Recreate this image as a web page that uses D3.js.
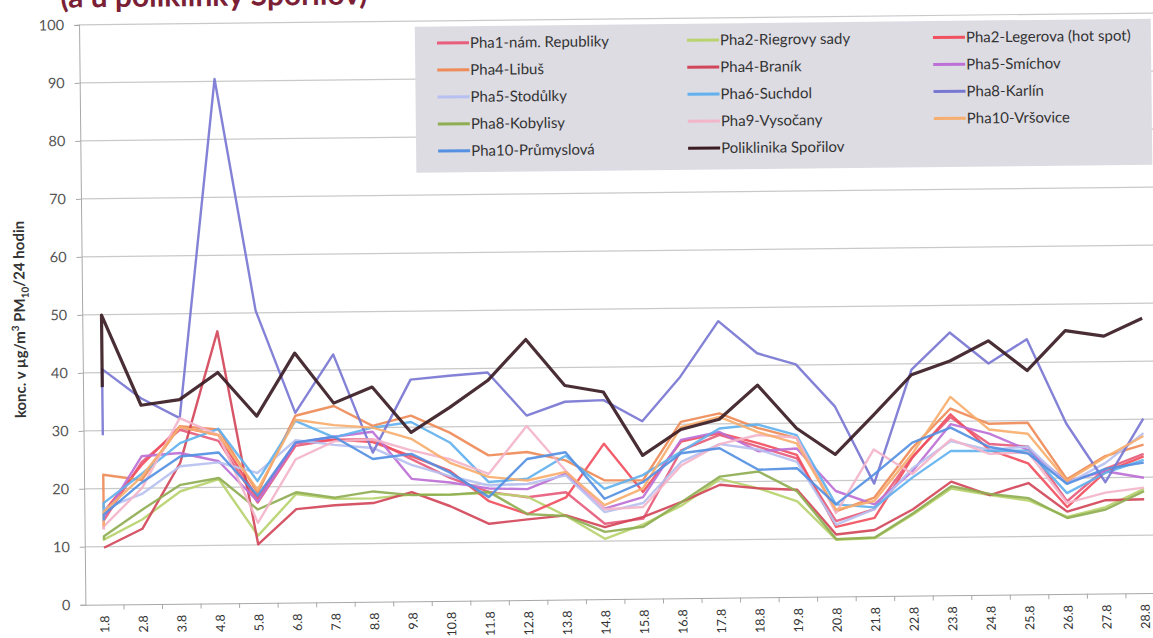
<!DOCTYPE html>
<html>
<head>
<meta charset="utf-8">
<script src="https://cdn.jsdelivr.net/npm/d3@7/dist/d3.min.js"></script>
<style>
  body { margin: 0; background: #fff; }
  svg { display: block; font-family: Lato, "Open Sans", sans-serif; }
</style>
</head>
<body>
<div id="chart"></div>
<script>
const categories = ["1.8","2.8","3.8","4.8","5.8","6.8","7.8","8.8","9.8","10.8","11.8","12.8","13.8","14.8",
  "15.8","16.8","17.8","18.8","19.8","20.8","21.8","22.8","23.8","24.8","25.8","26.8","27.8","28.8"];
const yTicks = [0, 10, 20, 30, 40, 50, 60, 70, 80, 90, 100];

const seriesNames = ["Pha1-nám. Republiky", "Pha2-Riegrovy sady", "Pha2-Legerova (hot spot)",
  "Pha4-Libuš", "Pha4-Braník", "Pha5-Smíchov",
  "Pha5-Stodůlky", "Pha6-Suchdol", "Pha8-Karlín",
  "Pha8-Kobylisy", "Pha9-Vysočany", "Pha10-Vršovice",
  "Pha10-Průmyslová", "Poliklinika Spořilov"];

// first reading of 1.8 (the series start with a short jump on that day)
const openValues = [13, 11, 16, 16.5, 9.8, 15, 16.5, 15.5, 29.2, 11.2, 13, 13.5, 14.5, 37.5];

const pha1Republiky = [14.5,24.5,30.0,28.0,17.3,27.0,28.0,28.0,24.5,21.2,18.7,17.7,18.5,13.0,13.8,25.5,28.1,26.0,23.9,13.0,15.0,24.0,30.7,26.0,25.5,16.0,21.5,24.0];
const pha2Riegrovy = [11.2,14.6,19.4,21.4,11.6,18.7,17.8,17.8,18.4,18.3,18.5,17.8,14.4,10.4,12.8,16.0,20.5,18.8,16.5,9.8,10.0,14.0,18.4,17.2,16.2,13.3,14.9,18.0];
const pha2Legerova = [16.0,24.0,30.5,29.0,18.0,27.5,28.0,27.5,25.0,22.4,17.1,14.8,17.6,26.8,18.4,27.0,28.4,26.6,24.5,12.0,13.5,23.8,31.2,25.0,22.6,15.0,21.0,23.6];
const pha4Libus = [22.4,21.4,30.6,30.0,19.0,32.2,33.8,30.3,32.0,29.0,25.0,25.5,24.0,20.5,20.4,30.4,31.8,29.2,27.4,14.7,17.0,25.5,32.2,29.5,29.6,19.8,23.7,25.6];
const pha4Branik = [9.8,13.0,24.3,46.9,10.1,16.1,16.7,17.0,18.8,16.3,13.2,13.9,14.5,12.4,14.1,16.6,19.5,18.8,18.5,10.7,11.4,14.9,19.6,17.2,19.2,14.2,16.1,16.2];
const pha5Smichov = [15.0,25.5,26.0,24.5,17.5,27.5,28.5,29.3,21.1,20.4,19.3,19.1,21.7,15.6,17.5,27.3,28.6,25.2,25.6,18.2,15.8,21.5,29.5,27.8,24.9,19.4,21.1,19.9];
const pha5Stodulky = [16.5,19.0,23.7,24.3,22.4,28.0,27.1,26.5,23.5,21.5,19.8,20.0,21.4,15.0,16.5,23.5,26.5,25.5,23.3,12.4,15.0,22.0,26.6,25.0,25.5,19.0,22.5,27.6];
const pha6Suchdol = [17.5,22.5,27.7,30.1,21.0,31.3,28.4,30.0,30.9,27.3,20.4,20.9,24.8,19.0,21.3,25.3,29.2,29.8,27.9,15.9,15.3,20.4,24.9,24.8,24.8,17.4,20.8,23.0];
const pha8Karlin = [40.6,35.5,32.0,90.4,50.4,32.7,42.7,25.7,38.2,38.8,39.3,31.8,34.1,34.3,30.6,38.2,47.7,42.1,40.1,32.8,19.4,39.0,45.3,39.9,44.0,29.4,19.2,30.1];
const pha8Kobylisy = [11.8,16.3,20.5,21.6,16.1,19.0,18.0,19.0,18.3,18.3,18.7,14.8,14.4,11.6,12.4,16.6,20.9,21.7,18.2,9.9,10.1,14.2,18.8,17.4,16.6,13.1,14.5,17.6];
const pha9Vysocany = [13.5,20.0,32.0,29.0,13.8,24.7,27.7,28.0,26.0,24.4,21.8,30.0,22.2,15.5,15.8,22.9,26.5,28.0,27.5,14.4,25.3,21.0,26.9,24.3,24.5,15.7,17.4,18.2];
const pha10Vrsovice = [16.0,22.0,30.5,29.0,19.5,31.5,30.5,30.0,28.0,23.8,21.3,20.6,22.0,16.2,19.0,29.5,31.2,28.5,26.5,15.0,16.4,24.5,34.2,28.5,27.7,19.5,23.5,27.1];
const pha10Prumyslova = [15.5,21.0,25.4,26.0,18.5,27.6,28.5,24.6,25.4,22.1,17.8,24.3,25.4,17.3,20.1,25.0,25.8,22.0,22.2,15.9,21.0,26.4,28.9,25.5,24.3,19.0,21.5,22.5];
const poliklinikaSporilov = [49.9,34.3,35.2,39.8,32.2,43.0,34.3,37.0,29.1,33.3,37.9,44.9,36.9,35.7,24.7,29.1,30.8,36.6,29.1,24.5,31.2,38.1,40.4,43.8,38.6,45.4,44.4,47.4];

const seriesValues = [pha1Republiky, pha2Riegrovy, pha2Legerova, pha4Libus, pha4Branik, pha5Smichov,
  pha5Stodulky, pha6Suchdol, pha8Karlin, pha8Kobylisy, pha9Vysocany, pha10Vrsovice,
  pha10Prumyslova, poliklinikaSporilov];

const colors = ["#e75d7c", "#b9d36f", "#f1505f", "#ee8b58", "#d2465a", "#bd70d6",
  "#b7c0f0", "#62b1ee", "#7877d2", "#8fae52", "#f3b5ca", "#f7ae6e", "#5590e2", "#3b1c24"];

const width = 1153, height = 638;
const plotLeft = 82.3, plotRight = 1161.4, plotTop = 19.4, plotBottom = 599.4;

const svg = d3.select("#chart").append("svg")
  .attr("width", width)
  .attr("height", height);

// the scanned page is a little skewed
const g = svg.append("g").attr("transform", "rotate(-0.63,576,319)");

const x = d3.scaleBand().domain(categories).range([plotLeft, plotRight]).padding(0);
const y = d3.scaleLinear().domain([0, 100]).range([plotBottom, plotTop]);
const xc = (c) => x(c) + x.bandwidth() / 2;

// title, only its lower part is on the page
g.append("text")
  .attr("x", 64)
  .attr("y", 2)
  .style("font-size", "30px")
  .style("font-weight", "bold")
  .style("fill", "#7a1f35")
  .text("(a u poliklinky Spořilov)");

// gridlines
g.append("g")
  .selectAll("line")
  .data(yTicks.filter(t => t > 0))
  .enter()
  .append("line")
  .attr("x1", plotLeft)
  .attr("x2", plotRight)
  .attr("y1", d => y(d))
  .attr("y2", d => y(d))
  .style("stroke", "#c9c9c9")
  .style("stroke-width", 1.2);

// y axis
const yAxis = g.append("g")
  .attr("transform", `translate(${plotLeft},0)`)
  .call(d3.axisLeft(y).tickValues(yTicks).tickSize(5).tickPadding(10));
yAxis.select(".domain").style("stroke", "#a8a8a8");
yAxis.selectAll(".tick line").style("stroke", "#a8a8a8");
yAxis.selectAll("text")
  .style("font-size", "14.5px")
  .style("fill", "#555")
  .style("font-family", "Lato, sans-serif");

// x axis
const xAxis = g.append("g")
  .attr("transform", `translate(0,${plotBottom})`)
  .call(d3.axisBottom(x).tickSize(0).tickPadding(0));
xAxis.select(".domain").style("stroke", "#a8a8a8");
xAxis.selectAll("text")
  .attr("transform", "rotate(-90)")
  .attr("text-anchor", "end")
  .attr("x", -11)
  .attr("y", 0)
  .attr("dy", "0.35em")
  .style("font-size", "12.5px")
  .style("fill", "#333")
  .style("font-family", "Lato, sans-serif");
g.append("g")
  .selectAll("line")
  .data(categories.slice(1))
  .enter()
  .append("line")
  .attr("x1", d => x(d))
  .attr("x2", d => x(d))
  .attr("y1", plotBottom)
  .attr("y2", plotBottom + 5)
  .style("stroke", "#a8a8a8");

// y axis title
const yTitle = g.append("text")
  .attr("transform", `translate(25,${(plotTop + plotBottom) / 2 + 4}) rotate(-90)`)
  .attr("text-anchor", "middle")
  .style("font-size", "15px")
  .style("font-weight", "bold")
  .style("fill", "#333");
yTitle.append("tspan").text("konc. v µg/m");
yTitle.append("tspan").attr("dy", -6).style("font-size", "10px").text("3");
yTitle.append("tspan").attr("dy", 6).text(" PM");
yTitle.append("tspan").attr("dy", 4).style("font-size", "10px").text("10");
yTitle.append("tspan").attr("dy", -4).text("/24 hodin");

// series lines
const line = d3.line()
  .x(d => xc(d.cat))
  .y(d => y(d.value));

const seriesData = seriesNames.map((name, i) => ({
  name: name,
  color: colors[i],
  points: [{ cat: categories[0], value: openValues[i] }]
    .concat(seriesValues[i].map((v, j) => ({ cat: categories[j], value: v })))
}));

g.append("g")
  .selectAll("path")
  .data(seriesData)
  .enter()
  .append("path")
  .attr("d", d => line(d.points))
  .style("fill", "none")
  .style("stroke", d => d.color)
  .style("stroke-width", (d, i) => i === seriesData.length - 1 ? 3.2 : 2.4)
  .style("stroke-linejoin", "round")
  .style("opacity", 0.92);

// legend
const legendX = [440, 690, 936];
const legend = g.append("g");
legend.append("rect")
  .attr("x", 418)
  .attr("y", 25)
  .attr("width", 736)
  .attr("height", 146)
  .style("fill", "#dddce3");
const items = legend.selectAll(".item")
  .data(seriesData)
  .enter()
  .append("g")
  .attr("transform", (d, i) => `translate(${legendX[i % 3]},${41.5 + Math.floor(i / 3) * 27})`);
items.append("line")
  .attr("x1", 0)
  .attr("x2", 32)
  .style("stroke", d => d.color)
  .style("stroke-width", 3);
items.append("text")
  .attr("x", 33)
  .attr("dy", "0.35em")
  .style("font-size", "15px")
  .style("fill", "#333")
  .text(d => d.name);
</script>
</body>
</html>
